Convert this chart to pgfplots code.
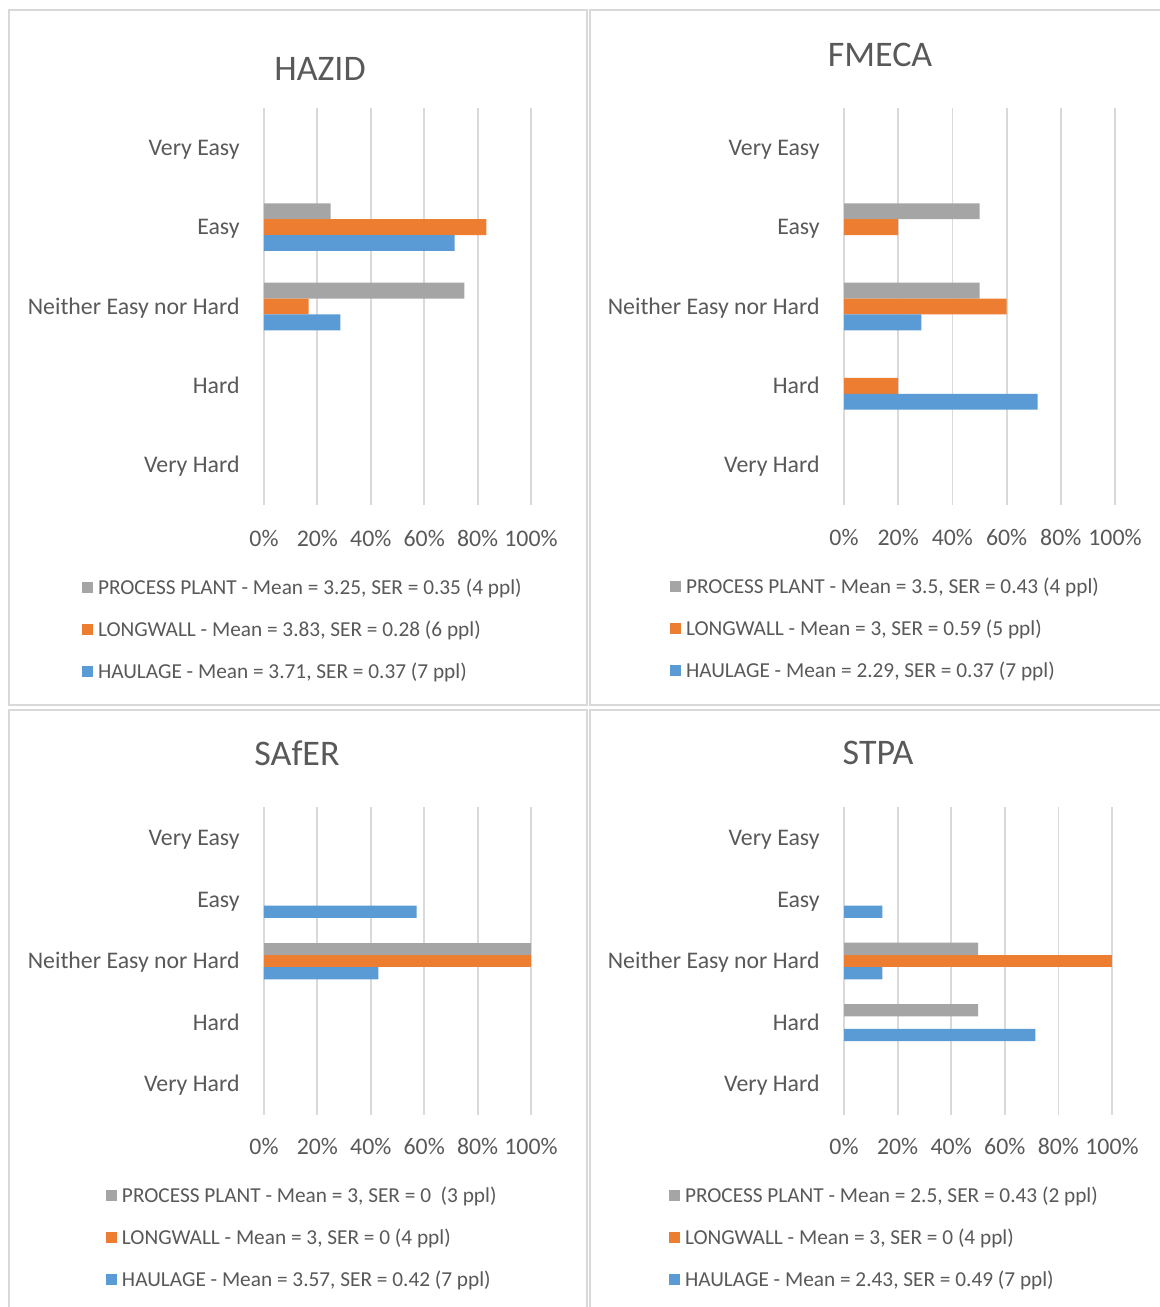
\documentclass[border=0pt]{standalone}
\usepackage{fontspec}
\setmainfont{Carlito}
\usepackage{pgfplots}
\pgfplotsset{compat=1.18}
\definecolor{pp}{HTML}{A5A5A5}
\definecolor{lw}{HTML}{ED7D31}
\definecolor{hl}{HTML}{5B9BD5}
\definecolor{txt}{HTML}{595959}
\definecolor{grd}{HTML}{D9D9D9}
\definecolor{frame}{HTML}{D9D9D9}

% 1 px of the reference = 0.5pt
\pgfplotsset{
  sqlegend/.style={legend image code/.code={\fill[##1] (0pt,-2.55pt) rectangle (5.5pt,2.95pt);}},
  likert/.style={
    xbar, scale only axis, anchor=north west,
    xmin=0, xmax=100, ymin=-0.5, ymax=4.5,
    bar width=0.2,
    xtick={0,20,...,100}, xticklabels={0\%,20\%,40\%,60\%,80\%,100\%},
    ytick={0,...,4},
    yticklabels={Very Hard,Hard,Neither Easy nor Hard,Easy,Very Easy},
    major tick length=0pt,
    axis line style={draw=none},
    xmajorgrids, major grid style={grd, line width=0.9pt},
    tick label style={font=\fontsize{11.9}{14}\selectfont, text=txt},
    yticklabel style={anchor=east, inner sep=0pt, xshift=-12pt, text height=7.7pt, text depth=0pt},
    xticklabel style={anchor=north, inner sep=0pt},
    % cancel the default 6pt lift of the title
    title style={font=\fontsize{18}{22}\selectfont, text=txt, anchor=center, inner sep=0pt, yshift=-6pt},
    legend cell align=left,
    legend style={draw=none, fill=none, inner sep=0pt, outer sep=0pt, anchor=north west,
      row sep=10pt, column sep=2.5pt, font=\fontsize{10.65}{13}\selectfont, text=txt,
      nodes={inner sep=0pt, text height=8.93pt, text depth=2.07pt}},
  }
}

\begin{document}
\begin{tikzpicture}
\fill[white] (0pt,0pt) rectangle (580pt,-653.5pt);
\useasboundingbox (0pt,0pt) rectangle (580pt,-653.5pt);
% panel frames
\draw[frame, line width=1pt] (4.25pt,-5pt) rectangle (293.5pt,-352.5pt);
\draw[frame, line width=1pt] (295pt,-5pt) rectangle (584pt,-352.5pt);
\draw[frame, line width=1pt] (4.25pt,-354.75pt) rectangle (293.5pt,-658pt);
\draw[frame, line width=1pt] (295pt,-354.75pt) rectangle (584pt,-658pt);

%% HAZID
\begin{axis}[likert, at={(132pt,-54pt)}, width=133.5pt, height=198.5pt,
  xticklabel style={yshift=-12.25pt},
  title={HAZID}, title style={at={(0.2097,1.098)}},
  legend style={at={(-0.6816,-0.1814)}}]
\addplot[fill=pp, draw=none, bar shift=0.2, sqlegend] coordinates {(25,3) (75,2)};
\addplot[fill=lw, draw=none, bar shift=0, sqlegend] coordinates {(83.33,3) (16.67,2)};
\addplot[fill=hl, draw=none, bar shift=-0.2, sqlegend] coordinates {(71.43,3) (28.57,2)};
\legend{PROCESS PLANT - Mean = 3.25{,} SER = 0.35 (4 ppl),
        LONGWALL - Mean = 3.83{,} SER = 0.28 (6 ppl),
        HAULAGE - Mean = 3.71{,} SER = 0.37 (7 ppl)}
\end{axis}

%% FMECA
\begin{axis}[likert, at={(422pt,-54pt)}, width=135.5pt, height=198.5pt,
  xticklabel style={yshift=-11.75pt},
  title={FMECA}, title style={at={(0.133,1.1335)}},
  legend style={at={(-0.642,-0.1788)}}]
\addplot[fill=pp, draw=none, bar shift=0.2, sqlegend] coordinates {(50,3) (50,2)};
\addplot[fill=lw, draw=none, bar shift=0, sqlegend] coordinates {(20,3) (60,2) (20,1)};
\addplot[fill=hl, draw=none, bar shift=-0.2, sqlegend] coordinates {(28.57,2) (71.43,1)};
\legend{PROCESS PLANT - Mean = 3.5{,} SER = 0.43 (4 ppl),
        LONGWALL - Mean = 3{,} SER = 0.59 (5 ppl),
        HAULAGE - Mean = 2.29{,} SER = 0.37 (7 ppl)}
\end{axis}

%% SAfER
\begin{axis}[likert, at={(132pt,-403.5pt)}, width=133.5pt, height=154pt,
  xticklabel style={yshift=-11.25pt},
  title={SAfER}, title style={at={(0.1236,1.175)}},
  legend style={at={(-0.5918,-0.2273)}}]
\addplot[fill=pp, draw=none, bar shift=0.2, sqlegend] coordinates {(100,2)};
\addplot[fill=lw, draw=none, bar shift=0, sqlegend] coordinates {(100,2)};
\addplot[fill=hl, draw=none, bar shift=-0.2, sqlegend] coordinates {(57.14,3) (42.86,2)};
\legend{PROCESS PLANT - Mean = 3{,} SER = 0\ \ (3 ppl),
        LONGWALL - Mean = 3{,} SER = 0 (4 ppl),
        HAULAGE - Mean = 3.57{,} SER = 0.42 (7 ppl)}
\end{axis}

%% STPA
\begin{axis}[likert, at={(422pt,-403.5pt)}, width=134pt, height=154pt,
  xticklabel style={yshift=-11.25pt},
  title={STPA}, title style={at={(0.127,1.175)}},
  legend style={at={(-0.653,-0.2273)}}]
\addplot[fill=pp, draw=none, bar shift=0.2, sqlegend] coordinates {(50,2) (50,1)};
\addplot[fill=lw, draw=none, bar shift=0, sqlegend] coordinates {(100,2)};
\addplot[fill=hl, draw=none, bar shift=-0.2, sqlegend] coordinates {(14.29,3) (14.29,2) (71.43,1)};
\legend{PROCESS PLANT - Mean = 2.5{,} SER = 0.43 (2 ppl),
        LONGWALL - Mean = 3{,} SER = 0 (4 ppl),
        HAULAGE - Mean = 2.43{,} SER = 0.49 (7 ppl)}
\end{axis}
\end{tikzpicture}
\end{document}
